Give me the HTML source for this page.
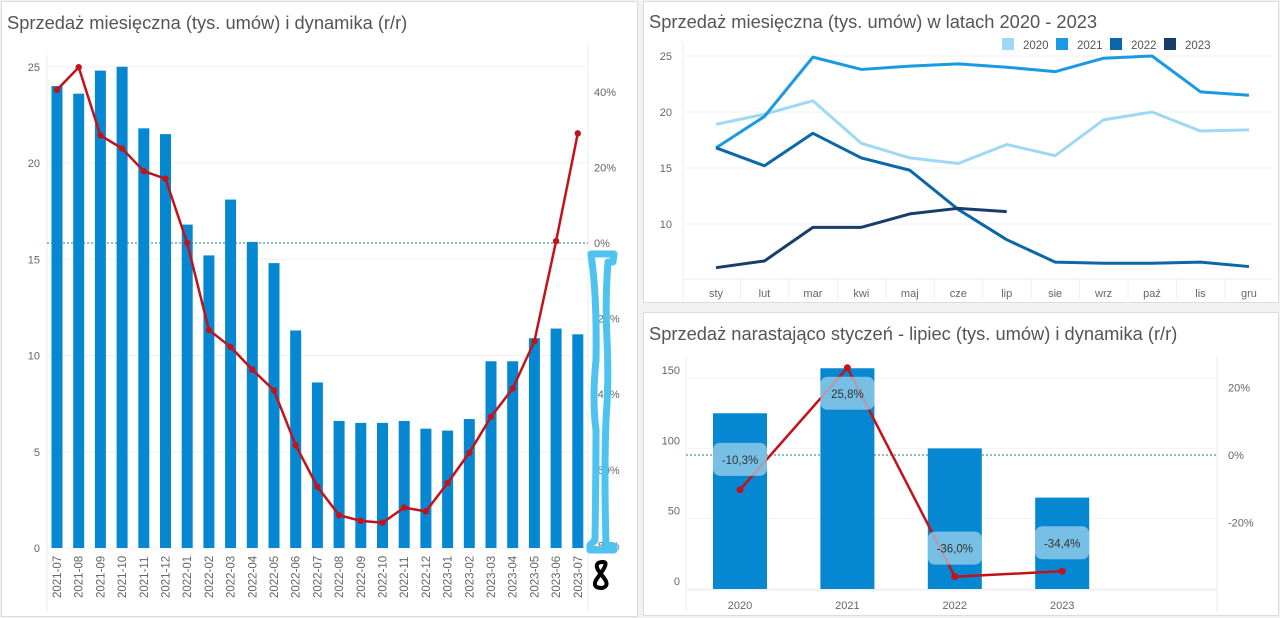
<!DOCTYPE html>
<html><head><meta charset="utf-8"><style>
body{margin:0;width:1280px;height:618px;background:#f2f2f2;font-family:"Liberation Sans",sans-serif;overflow:hidden}
.panel{position:absolute;background:#fff;border:1px solid #dcdcdc}
svg text{font-family:"Liberation Sans",sans-serif}
</style></head><body>
<div class="panel" style="left:1px;top:1px;width:635px;height:614px"></div>
<div class="panel" style="left:643px;top:1px;width:634px;height:300px"></div>
<div class="panel" style="left:643px;top:312px;width:634px;height:302px"></div>
<svg id="s" width="1280" height="618" style="position:absolute;left:0;top:0">
<text x="7" y="29" font-size="18.3" fill="#555">Sprzedaż miesięczna (tys. umów) i dynamika (r/r)</text>
<text x="649" y="28" font-size="18.3" fill="#555">Sprzedaż miesięczna (tys. umów) w latach 2020 - 2023</text>
<text x="649" y="340" font-size="18.3" fill="#555">Sprzedaż narastająco styczeń - lipiec (tys. umów) i dynamika (r/r)</text>
<g id="g1"></g><g id="g2"></g><g id="g3"></g>
</svg>
<script>
// Chart 1 data
const months1=["2021-07","2021-08","2021-09","2021-10","2021-11","2021-12","2022-01","2022-02","2022-03","2022-04","2022-05","2022-06","2022-07","2022-08","2022-09","2022-10","2022-11","2022-12","2023-01","2023-02","2023-03","2023-04","2023-05","2023-06","2023-07"];
const sales1=[24.0,23.6,24.8,25.0,21.8,21.5,16.8,15.2,18.1,15.9,14.8,11.3,8.6,6.6,6.5,6.5,6.6,6.2,6.1,6.7,9.7,9.7,10.9,11.4,11.1];
const yoy1=[40.5,46.5,28.5,25,19,17,0,-23,-27.5,-33.5,-39,-53.5,-64.5,-72,-73.5,-74,-70,-71,-63.5,-55.5,-46,-38.5,-26,0.5,29];
const yTicks1=[0,5,10,15,20,25];
const pTicks1=[40,20,0,-20,-40,-60,-80];
// Chart 2 data
const months2=["sty","lut","mar","kwi","maj","cze","lip","sie","wrz","paź","lis","gru"];
const years2=["2020","2021","2022","2023"];
const s2020=[18.9,19.8,21.0,17.2,15.9,15.4,17.1,16.1,19.3,20.0,18.3,18.4];
const s2021=[16.8,19.6,24.9,23.8,24.1,24.3,24.0,23.6,24.8,25.0,21.8,21.5];
const s2022=[16.8,15.2,18.1,15.9,14.8,11.3,8.6,6.6,6.5,6.5,6.6,6.2];
const s2023=[6.1,6.7,9.7,9.7,10.9,11.4,11.1];
const yTicks2=[10,15,20,25];
// Chart 3 data
const years3=["2020","2021","2022","2023"];
const cum3=[125,157,100,65];
const yoy3=[-10.3,25.8,-36.0,-34.4];
const yoyLabels3=["-10,3%","25,8%","-36,0%","-34,4%"];
const yTicks3=[0,50,100,150];
const pTicks3=[20,0,-20];

const NS="http://www.w3.org/2000/svg";
function mk(p,t,a){const e=document.createElementNS(NS,t);for(const k in a)e.setAttribute(k,a[k]);p.appendChild(e);return e;}
function tx(p,x,y,s,a){const e=mk(p,'text',Object.assign({x:x,y:y,'font-size':11,fill:'#666'},a||{}));e.textContent=s;return e;}

// ---- Chart 1
const g1=document.getElementById('g1');
const y1=v=>548-v*19.25, p1=v=>243-v*3.78, x1=i=>57+i*21.7;
mk(g1,'line',{x1:47,y1:55,x2:47,y2:612,stroke:'#eee'});
mk(g1,'line',{x1:588,y1:42,x2:588,y2:612,stroke:'#eee'});
yTicks1.forEach(v=>{const g=mk(g1,'line',{x1:47,x2:588,y1:y1(v),y2:y1(v),stroke:'#f0f0f0'});

const t=tx(g1,40,y1(v)+4,v,{'text-anchor':'end'});});
pTicks1.forEach(v=>{const t=tx(g1,594,p1(v)+4,v+'%');});
mk(g1,'line',{x1:47,x2:588,y1:p1(0),y2:p1(0),stroke:'#6aa','stroke-dasharray':'2,2','stroke-width':1.5});
sales1.forEach((v,i)=>{const r=mk(g1,'rect',{x:x1(i)-5.5,y:y1(v),width:11,height:548-y1(v),fill:'#0587d1'});

const t=tx(g1,0,0,months1[i],{transform:`translate(${x1(i)+4},598) rotate(-90)`,'font-size':11.5});
});
const l1=mk(g1,'polyline',{points:yoy1.map((v,i)=>x1(i)+','+p1(v)).join(' '),fill:'none',stroke:'#c4121a','stroke-width':2.5});

yoy1.forEach((v,i)=>{const c=mk(g1,'circle',{cx:x1(i),cy:p1(v),r:3.2,fill:'#c4121a'});});
const sc=mk(g1,'path',{d:'M591 254 L614 254 L613 262 L608 262 Q605 300 607 340 Q609 380 606 420 Q604 470 606 545 L614 546 L614 550 L590 550 L590 545 L595 540 Q596 470 596 430 Q592 400 596 360 Q597 300 592 262 Z',fill:'none',stroke:'#4fc3f0','stroke-width':7,'stroke-linejoin':'round'});

const eight=mk(g1,'path',{d:'M603 562 Q594 562 598 570 L604 578 Q610 586 602 588 Q592 588 596 580 L603 570 Q608 562 603 562',fill:'none',stroke:'#000','stroke-width':4});


// ---- Chart 2
const g2=document.getElementById('g2');
const y2=v=>56+(25-v)*11.2, x2=i=>716+i*48.45;
mk(g2,'line',{x1:683,y1:42,x2:683,y2:300,stroke:'#eee'});
mk(g2,'line',{x1:683,y1:279,x2:1273,y2:279,stroke:'#eee'});
yTicks2.forEach(v=>{mk(g2,'line',{x1:683,x2:1273,y1:y2(v),y2:y2(v),stroke:'#f0f0f0'});
const t=tx(g2,672,y2(v)+4,v,{'text-anchor':'end'});});
months2.forEach((m,i)=>{const t=tx(g2,x2(i),297,m,{'text-anchor':'middle'});
if(i>0)mk(g2,'line',{x1:x2(i)-24,x2:x2(i)-24,y1:279,y2:300,stroke:'#f0f0f0'});});
const cols2=['#9dd9f7','#1a9ae0','#0b67a8','#173e6b'];
[s2020,s2021,s2022,s2023].forEach((s,k)=>{const l=mk(g2,'polyline',{points:s.map((v,i)=>x2(i)+','+y2(v)).join(' '),fill:'none',stroke:cols2[k],'stroke-width':3,'stroke-linejoin':'round'});

const lx=1002+k*54;const r=mk(g2,'rect',{x:lx,y:38,width:12,height:12,fill:cols2[k]});

const t=tx(g2,lx+21,49,years2[k],{'font-size':11.5,fill:'#555'});});

// ---- Chart 3
const g3=document.getElementById('g3');
const y3=v=>589-v*1.406, p3=v=>455-v*3.38, x3=i=>740+i*107.4;
mk(g3,'line',{x1:686,y1:357,x2:686,y2:612,stroke:'#eee'});
mk(g3,'line',{x1:1217,y1:357,x2:1217,y2:612,stroke:'#eee'});
mk(g3,'line',{x1:686,y1:590,x2:1217,y2:590,stroke:'#eee'});
yTicks3.forEach(v=>{mk(g3,'line',{x1:686,x2:1217,y1:y3(v),y2:y3(v),stroke:'#f3f3f3'});
const t=tx(g3,680,y3(v)-4,v,{'text-anchor':'end'});});
pTicks3.forEach(v=>{const t=tx(g3,1228,p3(v)+4,v+'%');});
mk(g3,'line',{x1:686,x2:1217,y1:p3(0),y2:p3(0),stroke:'#6aa','stroke-dasharray':'2,2','stroke-width':1.5});
cum3.forEach((v,i)=>{const r=mk(g3,'rect',{x:x3(i)-27,y:y3(v),width:54,height:y3(0)-y3(v),fill:'#0587d1'});

const t=tx(g3,x3(i),609,years3[i],{'text-anchor':'middle'});});
const l3=mk(g3,'polyline',{points:yoy3.map((v,i)=>x3(i)+','+p3(v)).join(' '),fill:'none',stroke:'#c4121a','stroke-width':2.5});

yoy3.forEach((v,i)=>{const c=mk(g3,'circle',{cx:x3(i),cy:p3(v),r:3.5,fill:'#c4121a'});
const ly=v>0?p3(v)+26:(v>-20?p3(v)-30:p3(v)-28);
const b=mk(g3,'rect',{x:x3(i)-27,y:ly-17,width:54,height:33,rx:7,fill:'rgba(170,215,240,0.7)'});

const t=tx(g3,x3(i),ly+4,yoyLabels3[i],{'text-anchor':'middle',fill:'#333','font-size':11.5});
});
</script>
</body></html>
